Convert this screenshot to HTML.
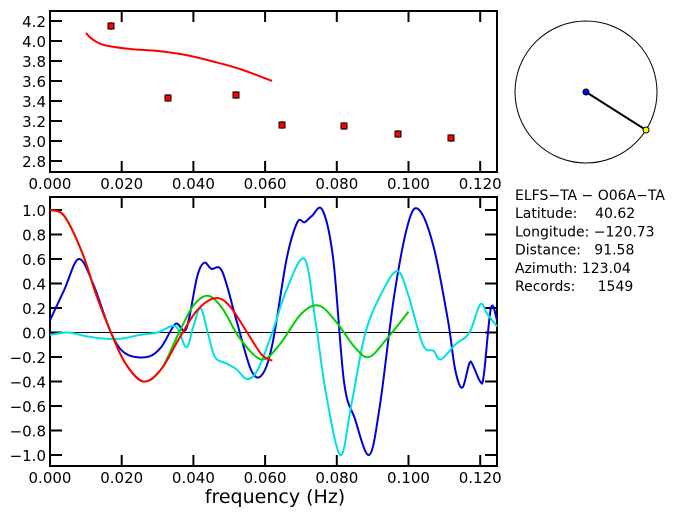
<!DOCTYPE html><html><head><style>body{margin:0;background:#fff}svg{display:block}text{font-family:"DejaVu Sans","Liberation Sans",sans-serif}</style></head><body>
<svg id="s" width="700" height="519" xmlns="http://www.w3.org/2000/svg">
<rect width="700" height="519" fill="#fff"/>
<g id="g"></g>
</svg>
<script>
const g=document.getElementById('g');let h='';
function X(f){return 50+f*3585}
// top plot
h+='<rect x="50" y="11" width="447" height="161" fill="none" stroke="#000" stroke-width="2"/>';
for(let i=0;i<8;i++){let v=4.2-i*0.2,y=21+i*20;h+=`<line x1="50" x2="62" y1="${y}" y2="${y}" stroke="#000" stroke-width="2"/><text x="46" y="${y+6}" font-size="15" text-anchor="end">${v.toFixed(1)}</text>`;}
for(let i=0;i<7;i++){let x=50+i*71.7;h+=`<line x1="${x}" x2="${x}" y1="11" y2="22" stroke="#000" stroke-width="2"/><line x1="${x}" x2="${x}" y1="161" y2="172" stroke="#000" stroke-width="2"/><text x="${x}" y="189" font-size="15" text-anchor="middle">${(i*0.02).toFixed(3)}</text>`;}
// bottom plot
h+='<rect x="50" y="197" width="447" height="269" fill="none" stroke="#000" stroke-width="2"/>';
h+='<line x1="50" x2="497" y1="332.5" y2="332.5" stroke="#000" stroke-width="1"/>';
for(let i=0;i<11;i++){let v=1-i*0.2,y=210+i*24.5;let t=v.toFixed(1);if(Math.abs(v)<1e-9)t='0.0';if(v<-1e-9)t='\u2212'+(-v).toFixed(1);h+=`<line x1="50" x2="62" y1="${y}" y2="${y}" stroke="#000" stroke-width="2"/><line x1="485" x2="497" y1="${y}" y2="${y}" stroke="#000" stroke-width="2"/><text x="46" y="${y+6}" font-size="15" text-anchor="end">${t}</text>`;}
for(let i=0;i<7;i++){let x=50+i*71.7;h+=`<line x1="${x}" x2="${x}" y1="197" y2="208" stroke="#000" stroke-width="2"/><line x1="${x}" x2="${x}" y1="455" y2="466" stroke="#000" stroke-width="2"/><text x="${x}" y="483" font-size="15" text-anchor="middle">${(i*0.02).toFixed(3)}</text>`;}
h+='<text x="275" y="503" font-size="19" text-anchor="middle">frequency (Hz)</text>';
function cr(p){let d=`M${p[0][0]},${p[0][1]}`;for(let i=0;i<p.length-1;i++){let p0=p[i-1]||p[i],p1=p[i],p2=p[i+1],p3=p[i+2]||p2;d+=`C${p1[0]+(p2[0]-p0[0])/6},${p1[1]+(p2[1]-p0[1])/6} ${p2[0]-(p3[0]-p1[0])/6},${p2[1]-(p3[1]-p1[1])/6} ${p2[0]},${p2[1]}`;}return d;}
function B(pts,c){let p=pts.map(a=>[X(a[0]),332.5-a[1]*122.5]);h+=`<path d="${cr(p)}" fill="none" stroke="${c}" stroke-width="2"/>`;}
B([[0,0.1],[0.004,0.35],[0.008,0.6],[0.012,0.4],[0.017,0],[0.021,-0.17],[0.027,-0.2],[0.031,-0.12],[0.035,0.07],[0.038,0.03],[0.041,0.45],[0.043,0.57],[0.045,0.52],[0.048,0.5],[0.052,0.1],[0.056,-0.3],[0.059,-0.35],[0.062,-0.1],[0.066,0.6],[0.069,0.9],[0.071,0.9],[0.073,0.95],[0.076,1.0],[0.079,0.6],[0.082,-0.4],[0.085,-0.7],[0.089,-1.0],[0.092,-0.6],[0.096,0.3],[0.100,0.9],[0.103,1.0],[0.107,0.7],[0.111,0.1],[0.113,-0.3],[0.115,-0.45],[0.117,-0.25],[0.118,-0.27],[0.120,-0.4],[0.121,-0.35],[0.123,0.2],[0.1247,0.1]],'#0000dd');
B([[0,-0.02],[0.005,0.0],[0.01,-0.03],[0.015,-0.05],[0.02,-0.05],[0.025,-0.02],[0.03,0],[0.035,0.05],[0.038,-0.12],[0.040,0.05],[0.042,0.2],[0.044,0.0],[0.046,-0.2],[0.049,-0.25],[0.052,-0.3],[0.055,-0.38],[0.058,-0.3],[0.062,0.0],[0.066,0.35],[0.071,0.6],[0.074,0.1],[0.077,-0.5],[0.081,-1.0],[0.084,-0.6],[0.088,0.0],[0.093,0.35],[0.097,0.5],[0.100,0.3],[0.104,-0.1],[0.107,-0.15],[0.109,-0.22],[0.113,-0.1],[0.117,0.0],[0.120,0.23],[0.122,0.15],[0.1247,0.05]],'#00e0e0');
B([[0,1.0],[0.004,0.95],[0.009,0.65],[0.013,0.3],[0.017,0],[0.021,-0.25],[0.026,-0.4],[0.031,-0.3],[0.036,0],[0.040,0.22],[0.044,0.3],[0.048,0.2],[0.053,-0.05],[0.059,-0.22],[0.064,-0.1],[0.070,0.15],[0.075,0.22],[0.080,0.08],[0.085,-0.12],[0.089,-0.2],[0.094,-0.05],[0.100,0.17]],'#00d000');
B([[0,1.0],[0.004,0.95],[0.009,0.65],[0.013,0.3],[0.017,0],[0.021,-0.25],[0.026,-0.4],[0.031,-0.3],[0.036,-0.05],[0.041,0.18],[0.046,0.28],[0.050,0.22],[0.055,0.0],[0.059,-0.18],[0.062,-0.23]],'#ff0000');
// top red curve and points
h+=`<path d="${cr([[86,33],[92,39],[104,45],[130,49],[158,51],[186,55],[211,61],[240,69],[272,81]])}" fill="none" stroke="#f00" stroke-width="2"/>`;
[[111,26],[168,98],[236,95],[282,125],[344,126],[398,134],[451,138]].forEach(p=>{h+=`<line x1="${p[0]}" x2="${p[0]}" y1="${p[1]-4}" y2="${p[1]+4}" stroke="#000"/><rect x="${p[0]-3}" y="${p[1]-3}" width="6" height="6" fill="#f00" stroke="#000"/>`;});
// circle
h+='<circle cx="586" cy="92" r="71" fill="none" stroke="#000" stroke-width="1"/><line x1="586" y1="92" x2="646" y2="130" stroke="#000" stroke-width="2"/><circle cx="586" cy="92" r="3" fill="#00f" stroke="#000"/><circle cx="646" cy="130" r="3" fill="#ff0" stroke="#000"/>';
const L=['ELFS\u2212TA \u2212 O06A\u2212TA','Latitude:    40.62','Longitude: \u2212120.73','Distance:   91.58','Azimuth: 123.04','Records:     1549'];
L.forEach((t,i)=>{h+=`<text x="515" y="${200+i*18.2}" font-size="14" xml:space="preserve" style="white-space:pre">${t}</text>`;});
g.innerHTML=h;
</script>
</body></html>
